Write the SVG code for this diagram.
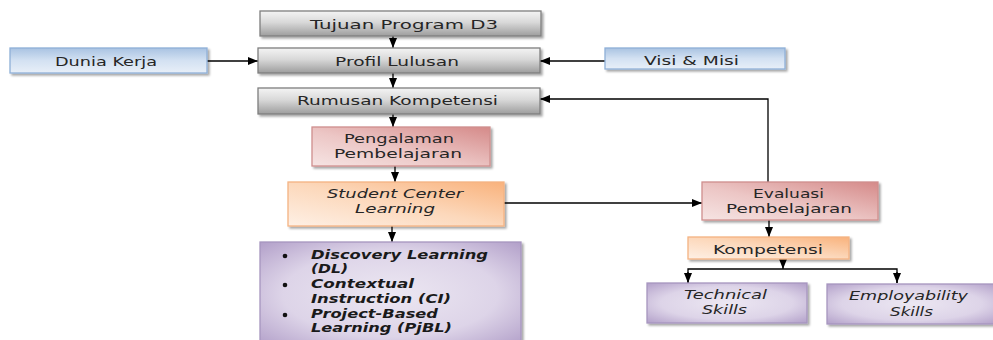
<svg xmlns="http://www.w3.org/2000/svg" width="993" height="340" viewBox="0 0 993 340">
  <defs>
    <linearGradient id="gGray" x1="0" y1="0" x2="0" y2="1">
      <stop offset="0" stop-color="#f4f4f4"/>
      <stop offset="0.45" stop-color="#d9d9d9"/>
      <stop offset="1" stop-color="#9d9d9d"/>
    </linearGradient>
    <linearGradient id="gBlue" x1="0" y1="0" x2="0" y2="1">
      <stop offset="0" stop-color="#a9c3e2"/>
      <stop offset="0.5" stop-color="#d3e1f2"/>
      <stop offset="1" stop-color="#e8eff8"/>
    </linearGradient>
    <linearGradient id="gPink" x1="1" y1="0" x2="0" y2="1">
      <stop offset="0" stop-color="#d58a89"/>
      <stop offset="0.55" stop-color="#ecc6c5"/>
      <stop offset="1" stop-color="#f6e4e3"/>
    </linearGradient>
    <linearGradient id="gOrange" x1="1" y1="0" x2="0" y2="1">
      <stop offset="0" stop-color="#f9b27c"/>
      <stop offset="0.5" stop-color="#fcd8bb"/>
      <stop offset="1" stop-color="#fef0e5"/>
    </linearGradient>
    <radialGradient id="gPurple" cx="0.5" cy="0.5" r="0.75">
      <stop offset="0" stop-color="#ece7f2"/>
      <stop offset="0.55" stop-color="#ddd4e8"/>
      <stop offset="1" stop-color="#ab97c4"/>
    </radialGradient>
    <filter id="shadow" x="-10%" y="-20%" width="130%" height="160%">
      <feDropShadow dx="2" dy="2" stdDeviation="1.2" flood-color="#000" flood-opacity="0.35"/>
    </filter>
    <marker id="arrow" viewBox="0 0 10 8" refX="10" refY="4" markerWidth="10" markerHeight="8" markerUnits="userSpaceOnUse" orient="auto">
      <path d="M0,0 L10,4 L0,8 z" fill="#000"/>
    </marker>
  </defs>
  <style>
    .box { filter: url(#shadow); stroke-width: 1.3; }
    .gray { fill: url(#gGray); stroke: #7f7f7f; }
    .blue { fill: url(#gBlue); stroke: #8fb0d8; }
    .pink { fill: url(#gPink); stroke: #cf8f8e; }
    .orange { fill: url(#gOrange); stroke: #f5b383; }
    .purple { fill: url(#gPurple); stroke: #a796bf; }
    text { font-family: "DejaVu Sans", Verdana, sans-serif; font-size: 12.5px; fill: #262626; dominant-baseline: central; }
    .it { font-style: italic; }
    .bi { font-style: italic; font-weight: bold; font-size: 11.5px; fill: #1a1a1a; }
    .conn { fill: none; stroke: #000; stroke-width: 1.3; }
  </style>

  <!-- connectors -->
  <g id="connectors">
    <line class="conn" x1="393" y1="36" x2="393" y2="48" marker-end="url(#arrow)"/>
    <line class="conn" x1="393" y1="73" x2="393" y2="88" marker-end="url(#arrow)"/>
    <line class="conn" x1="393" y1="114" x2="393" y2="127" marker-end="url(#arrow)"/>
    <line class="conn" x1="395" y1="166" x2="395" y2="182" marker-end="url(#arrow)"/>
    <line class="conn" x1="392" y1="226" x2="392" y2="242" marker-end="url(#arrow)"/>
    <line class="conn" x1="207" y1="61" x2="258" y2="61" marker-end="url(#arrow)"/>
    <line class="conn" x1="605" y1="61" x2="540" y2="61" marker-end="url(#arrow)"/>
    <polyline class="conn" points="768,182 768,99 540,99" marker-end="url(#arrow)"/>
    <line class="conn" x1="504" y1="203" x2="702" y2="203" marker-end="url(#arrow)"/>
    <line class="conn" x1="769" y1="220" x2="769" y2="237" marker-end="url(#arrow)"/>
    <line class="conn" x1="783" y1="259" x2="783" y2="269" marker-end="url(#arrow)"/>
    <polyline class="conn" points="688,283 688,269 897,269 897,283"/>
    <line class="conn" x1="688" y1="272" x2="688" y2="283" marker-end="url(#arrow)"/>
    <line class="conn" x1="897" y1="272" x2="897" y2="283" marker-end="url(#arrow)"/>
  </g>

  <g id="tujuan">
    <rect class="box gray" x="260" y="11" width="281" height="25"/>
    <text x="310" y="24" textLength="188" lengthAdjust="spacingAndGlyphs">Tujuan Program D3</text>
  </g>
  <g id="profil">
    <rect class="box gray" x="258" y="48" width="282" height="25"/>
    <text x="335" y="61" textLength="124" lengthAdjust="spacingAndGlyphs">Profil Lulusan</text>
  </g>
  <g id="rumusan">
    <rect class="box gray" x="258" y="88" width="282" height="26"/>
    <text x="297" y="100" textLength="201" lengthAdjust="spacingAndGlyphs">Rumusan Kompetensi</text>
  </g>
  <g id="dunia-kerja">
    <rect class="box blue" x="10" y="48" width="197" height="25"/>
    <text x="55" y="61" textLength="102" lengthAdjust="spacingAndGlyphs">Dunia Kerja</text>
  </g>
  <g id="visi-misi">
    <rect class="box blue" x="605" y="48" width="180" height="21"/>
    <text x="644" y="60" textLength="95" lengthAdjust="spacingAndGlyphs">Visi &amp; Misi</text>
  </g>
  <g id="pengalaman">
    <rect class="box pink" x="312" y="127" width="178" height="39"/>
    <text x="344" y="138" textLength="110" lengthAdjust="spacingAndGlyphs">Pengalaman</text>
    <text x="334" y="153" textLength="128" lengthAdjust="spacingAndGlyphs">Pembelajaran</text>
  </g>
  <g id="student-center">
    <rect class="box orange" x="288" y="182" width="216" height="44"/>
    <text class="it" x="327" y="193" textLength="136" lengthAdjust="spacingAndGlyphs">Student Center</text>
    <text class="it" x="355" y="208" textLength="80" lengthAdjust="spacingAndGlyphs">Learning</text>
  </g>
  <g id="metode">
    <rect class="box purple" x="260" y="242" width="261" height="104"/>
    <circle cx="285" cy="256" r="2.3" fill="#111"/>
    <circle cx="285" cy="285" r="2.3" fill="#111"/>
    <circle cx="285" cy="315" r="2.3" fill="#111"/>
    <text class="bi" x="311" y="255" textLength="177" lengthAdjust="spacingAndGlyphs">Discovery Learning</text>
    <text class="bi" x="311" y="269" textLength="37" lengthAdjust="spacingAndGlyphs">(DL)</text>
    <text class="bi" x="311" y="284" textLength="103" lengthAdjust="spacingAndGlyphs">Contextual</text>
    <text class="bi" x="311" y="299" textLength="140" lengthAdjust="spacingAndGlyphs">Instruction (CI)</text>
    <text class="bi" x="311" y="314" textLength="127" lengthAdjust="spacingAndGlyphs">Project-Based</text>
    <text class="bi" x="311" y="328" textLength="141" lengthAdjust="spacingAndGlyphs">Learning (PjBL)</text>
  </g>
  <g id="evaluasi">
    <rect class="box pink" x="702" y="182" width="176" height="38"/>
    <text x="753" y="193" textLength="71" lengthAdjust="spacingAndGlyphs">Evaluasi</text>
    <text x="726" y="208" textLength="126" lengthAdjust="spacingAndGlyphs">Pembelajaran</text>
  </g>
  <g id="kompetensi">
    <rect class="box orange" x="688" y="237" width="161" height="22"/>
    <text x="713" y="249" textLength="110" lengthAdjust="spacingAndGlyphs">Kompetensi</text>
  </g>
  <g id="technical">
    <rect class="box purple" x="647" y="283" width="160" height="40"/>
    <text class="it" x="684" y="294" textLength="83" lengthAdjust="spacingAndGlyphs">Technical</text>
    <text class="it" x="702" y="309" textLength="45" lengthAdjust="spacingAndGlyphs">Skills</text>
  </g>
  <g id="employability">
    <rect class="box purple" x="827" y="284" width="170" height="40"/>
    <text class="it" x="849" y="295" textLength="119" lengthAdjust="spacingAndGlyphs">Employability</text>
    <text class="it" x="890" y="311" textLength="43" lengthAdjust="spacingAndGlyphs">Skills</text>
  </g>
</svg>
